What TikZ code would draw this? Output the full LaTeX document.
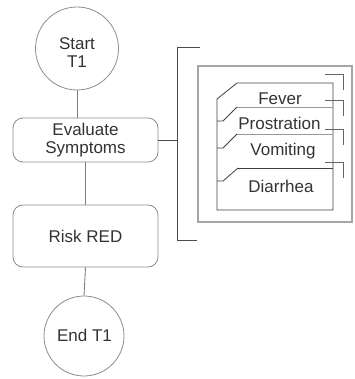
\documentclass[tikz,border=0pt]{standalone}
\usepackage{fontspec}
\setmainfont{Liberation Sans}
\begin{document}
\begin{tikzpicture}[x=1pt,y=-1pt,
  txt/.style={font=\fontsize{17}{17.5}\selectfont, text=black!80, align=center, inner sep=0pt},
  term/.style={circle, draw=black!45, line width=0.8pt, inner sep=0pt},
  task/.style={rectangle, rounded corners=10pt, draw=black!45, line width=0.8pt, minimum width=145pt, inner sep=0pt},
  link/.style={draw=black!50, line width=0.9pt},
  bracket/.style={draw=black!70, line width=0.9pt},
  card/.style={draw=black!75, line width=0.8pt},
  sep/.style={draw=black!40, line width=0.9pt},
  tick/.style={draw=black!60, line width=0.8pt},
  frame/.style={draw=black!35, line width=1.3pt}]
\useasboundingbox (0,0) rectangle (354,379);

% flow shapes
\node[term, minimum size=83pt] (start) at (77,48.5) {};
\node[txt] (startlbl) at (77,52.5) {Start\\T1};
\node[task, minimum height=44pt] (eval) at (85.5,140) {};
\node[txt, font=\fontsize{17}{18}\selectfont] (evallbl) at (85.5,139.7) {Evaluate\\Symptoms};
\node[task, minimum height=62pt] (risk) at (85.5,236) {};
\node[txt, anchor=base] (risklbl) at (85.5,242) {Risk RED};
\node[term, minimum size=80pt] (end) at (84,336) {};
\node[txt, anchor=base] (endlbl) at (84.5,341) {End T1};

% connectors
\draw[link] (start.south) -- (start.south |- eval.north);
\draw[link] (eval.south) -- (risk.north);
\draw[link] (risk.south) -- (end.north);

% annotation bracket
\coordinate (bt) at (177,47);
\coordinate (bb) at (177,240);
\coordinate (btr) at (200,47);
\coordinate (bbr) at (197,240);
\draw[bracket] (eval.east) -- (eval.east -| bt);
\draw[bracket] (btr) -- (bt) -- (bb) -- (bbr);

% outer frame
\draw[frame] (198,66) rectangle (352,222);

% stacked cards
\draw[card] (237,83) -- (333,83) -- (333,210) -- (217,210) -- (217,99) -- cycle;
\draw[card] (217,121) -- (223,121) -- (237,107);
\draw[card] (217,148) -- (223,148) -- (237,134);
\draw[card] (217,181) -- (223,181) -- (238,168);
\draw[sep] (237,107) -- (333,107);
\draw[sep] (237,134) -- (333,134);
\draw[card] (238,168) -- (333,168);

% corner ticks behind the cards
\foreach \ty in {74,100,129,162}
  \draw[tick] (325,\ty) -- (343,\ty) -- (343,\ty+16);

% card labels
\node[txt, anchor=base] (fever) at (280,105) {Fever};
\node[txt, anchor=base] (prost) at (279.5,130) {Prostration};
\node[txt, anchor=base] (vomit) at (283,155.5) {Vomiting};
\node[txt, anchor=base] (diarr) at (281,192) {Diarrhea};
\end{tikzpicture}
\end{document}
